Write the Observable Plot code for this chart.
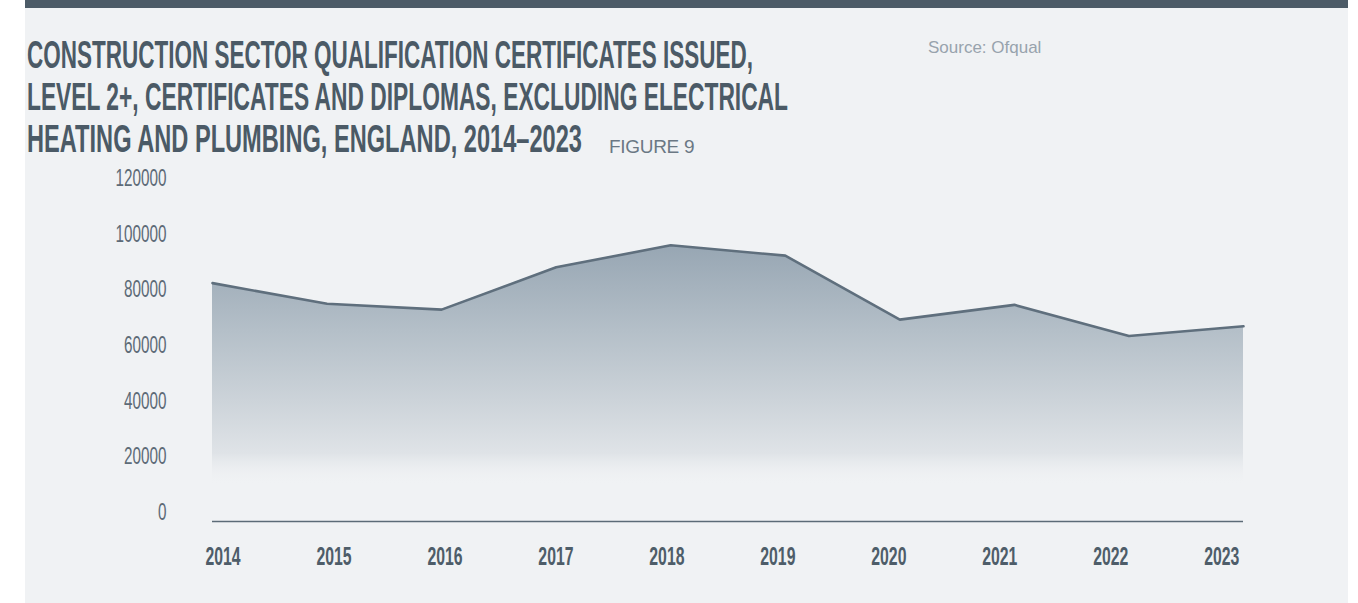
<!DOCTYPE html>
<html>
<head>
<meta charset="utf-8">
<script src="https://cdn.jsdelivr.net/npm/d3@7"></script>
<script src="https://cdn.jsdelivr.net/npm/@observablehq/plot@0.6"></script>
<style>
  html, body { margin: 0; padding: 0; }
  body { width: 1358px; height: 603px; position: relative; overflow: hidden; background: #ffffff; }
  #panel { position: absolute; left: 25px; top: 0; width: 1323px; height: 603px; background: #f0f2f4; }
  #bar { position: absolute; left: 25px; top: 0; width: 1323px; height: 8px; background: #4c5b67; }
  .tl { position: absolute; left: 27px; font-family: 'Liberation Sans Narrow', 'Liberation Sans', Arial, sans-serif;
        font-weight: 700; font-size: 38.5px; line-height: 38.5px; color: #4b5a66; white-space: nowrap;
        display: inline-block; transform-origin: 0 0; }
  #fig { position: absolute; left: 609px; top: 137px; font-family: 'Liberation Sans', Arial, sans-serif;
         font-size: 19px; line-height: 19px; color: #6b7884; white-space: nowrap; letter-spacing: -0.3px; }
  #src { position: absolute; left: 928px; top: 39px; font-family: 'Liberation Sans', Arial, sans-serif;
         font-size: 17px; line-height: 17px; color: #98a3ad; white-space: nowrap; }
  #chart { position: absolute; left: 0; top: 160px; }
</style>
</head>
<body>
<div id="panel"></div>
<div id="bar"></div>
<div class="tl" id="t1" data-w="726" style="top:36px">CONSTRUCTION SECTOR QUALIFICATION CERTIFICATES ISSUED,</div>
<div class="tl" id="t2" data-w="761" style="top:78px">LEVEL 2+, CERTIFICATES AND DIPLOMAS, EXCLUDING ELECTRICAL</div>
<div class="tl" id="t3" data-w="555" style="top:120px">HEATING AND PLUMBING, ENGLAND, 2014–2023</div>
<div id="fig">FIGURE 9</div>
<div id="src">Source: Ofqual</div>
<div id="chart"></div>
<script>
// ---- data ----
const years = [2014, 2015, 2016, 2017, 2018, 2019, 2020, 2021, 2022, 2023];
const certificates = [82400, 75000, 72900, 88100, 96000, 92300, 69300, 74600, 63400, 66900];
const yTicks = [0, 20000, 40000, 60000, 80000, 100000, 120000];
const xTickLabels = ["2014", "2015", "2016", "2017", "2018", "2019", "2020", "2021", "2022", "2023"];

const data = years.map((year, i) => ({year, value: certificates[i]}));

// title lines: condense to the reference widths
document.querySelectorAll(".tl").forEach(el => {
  const w = el.getBoundingClientRect().width;
  const target = +el.dataset.w;
  el.style.transform = `scaleX(${target / w})`;
});

const gradient = () => {
  const defs = d3.create("svg:defs");
  const g = defs.append("linearGradient")
    .attr("id", "areaGrad").attr("x1", 0).attr("x2", 0).attr("y1", 0).attr("y2", 1);
  [
    [0, "#97a6b3", 1],
    [0.32, "#b4bfc8", 1],
    [0.58, "#ccd3d9", 1],
    [0.78, "#dfe3e7", 1],
    [0.9, "#f0f2f4", 0.0]
  ].forEach(([o, c, op]) => g.append("stop").attr("offset", o).attr("stop-color", c).attr("stop-opacity", op));
  return defs.node();
};

// labels spread evenly along the baseline, as in the reference
const labelX = d3.scaleLinear([years[0], years[years.length - 1]], [2014.092, 2022.81]);

const chart = Plot.plot({
  width: 1358,
  height: 443,
  marginLeft: 212,
  marginRight: 115,
  marginTop: 18,
  marginBottom: 91,
  style: { background: "transparent", overflow: "visible" },
  x: { domain: [years[0], years[years.length - 1]], axis: null },
  y: { domain: [0, 120000], axis: null },
  marks: [
    gradient,
    Plot.areaY(data, { x: "year", y: "value", fill: "url(#areaGrad)" }),
    Plot.lineY(data, { x: "year", y: "value", stroke: "#5f6f7d", strokeWidth: 2.6, strokeLinejoin: "miter" }),
    Plot.ruleY([0], { dy: 9, stroke: "#5c6b77", strokeWidth: 1.6 }),
    Plot.axisY({
      ticks: yTicks, tickSize: 0, tickPadding: 46, tickFormat: d3.format("d"), label: null,
      fontSize: 23, fill: "#5d6b77", fontFamily: "'Liberation Sans Narrow', 'Liberation Sans', Arial, sans-serif",
      className: "ylab"
    }),
    Plot.text(years, {
      x: d => labelX(d), text: (d, i) => xTickLabels[i], frameAnchor: "bottom", lineAnchor: "middle", dy: 44.5,
      fontSize: 25, fontWeight: 700, fill: "#4e5d69", textAnchor: "middle",
      fontFamily: "'Liberation Sans Narrow', 'Liberation Sans', Arial, sans-serif",
      className: "xlab"
    })
  ]
});
document.getElementById("chart").appendChild(chart);

// condense tick label glyphs horizontally to the reference widths (per character)
function condense(selector, perChar) {
  chart.querySelectorAll(selector + " text").forEach(t => {
    const len = t.getComputedTextLength();
    const s = t.textContent.length * perChar / len;
    const xa = t.getAttribute("x");
    let pre = "";
    if (xa !== null && isFinite(+xa) && +xa !== 0) { pre = ` translate(${+xa},0)`; t.setAttribute("x", 0); }
    const tr = t.getAttribute("transform") || "";
    t.setAttribute("transform", `${tr}${pre} scale(${s},1)`);
  });
}
condense(".ylab", 8.5);
condense(".xlab", 8.8);
</script>
</body>
</html>
